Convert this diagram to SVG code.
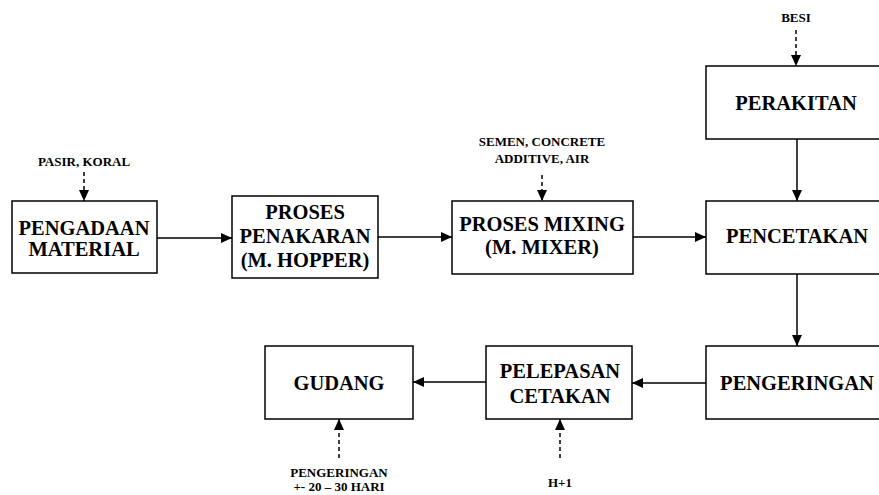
<svg xmlns="http://www.w3.org/2000/svg" width="879" height="495" viewBox="0 0 879 495">
<style>
.box{fill:#fff;stroke:#000;stroke-width:1.5}
.t{font-family:"Liberation Serif","Times New Roman",serif;font-weight:bold;font-size:20.5px;text-anchor:middle;fill:#000}
.s{font-family:"Liberation Serif","Times New Roman",serif;font-weight:bold;font-size:13px;text-anchor:middle;fill:#000}
.c{stroke:#000;stroke-width:1.5;fill:none}
.d{stroke:#000;stroke-width:1.5;fill:none;stroke-dasharray:4,3}
</style>
<defs>
<marker id="ah" markerWidth="11" markerHeight="11" viewBox="0 0 11 11" refX="11" refY="5.5" orient="auto" markerUnits="userSpaceOnUse">
<path d="M0,0.5 L11,5.5 L0,10.5 Z" fill="#000"/>
</marker>
</defs>
<rect width="879" height="495" fill="#fff"/>
<g id="connectors">
<line class="c" x1="157" y1="238" x2="232" y2="238" marker-end="url(#ah)"/>
<line class="c" x1="378" y1="237" x2="452" y2="237" marker-end="url(#ah)"/>
<line class="c" x1="633" y1="237" x2="706" y2="237" marker-end="url(#ah)"/>
<line class="c" x1="797" y1="139" x2="797" y2="201" marker-end="url(#ah)"/>
<line class="c" x1="797" y1="274" x2="797" y2="346" marker-end="url(#ah)"/>
<line class="c" x1="706" y1="383" x2="632" y2="383" marker-end="url(#ah)"/>
<line class="c" x1="486" y1="382" x2="413" y2="382" marker-end="url(#ah)"/>
<line class="d" x1="84" y1="172" x2="84" y2="201" marker-end="url(#ah)"/>
<line class="d" x1="542" y1="175" x2="542" y2="201" marker-end="url(#ah)"/>
<line class="d" x1="796" y1="30" x2="796" y2="66" marker-end="url(#ah)"/>
<line class="d" x1="339" y1="458" x2="339" y2="419" marker-end="url(#ah)"/>
<line class="d" x1="560" y1="458" x2="560" y2="419" marker-end="url(#ah)"/>
</g>
<g id="pengadaan">
<rect class="box" x="12" y="201" width="145" height="72"/>
<text class="t" x="84" y="235">PENGADAAN</text>
<text class="t" x="84" y="256">MATERIAL</text>
</g>
<g id="penakaran">
<rect class="box" x="232" y="196" width="146" height="82"/>
<text class="t" x="305" y="219">PROSES</text>
<text class="t" x="305" y="243">PENAKARAN</text>
<text class="t" x="305" y="267">(M. HOPPER)</text>
</g>
<g id="mixing">
<rect class="box" x="452" y="201" width="181" height="73"/>
<text class="t" x="542" y="231">PROSES MIXING</text>
<text class="t" x="542" y="254">(M. MIXER)</text>
</g>
<g id="perakitan">
<rect class="box" x="706" y="66" width="176" height="73"/>
<text class="t" x="796" y="110">PERAKITAN</text>
</g>
<g id="pencetakan">
<rect class="box" x="706" y="201" width="176" height="73"/>
<text class="t" x="797" y="243">PENCETAKAN</text>
</g>
<g id="pengeringan">
<rect class="box" x="706" y="346" width="176" height="73"/>
<text class="t" x="797" y="390">PENGERINGAN</text>
</g>
<g id="pelepasan">
<rect class="box" x="486" y="346" width="146" height="73"/>
<text class="t" x="560" y="378">PELEPASAN</text>
<text class="t" x="560" y="403">CETAKAN</text>
</g>
<g id="gudang">
<rect class="box" x="265" y="346" width="148" height="73"/>
<text class="t" x="339" y="390">GUDANG</text>
</g>
<g id="labels">
<text class="s" x="84" y="166">PASIR, KORAL</text>
<text class="s" x="542" y="146">SEMEN, CONCRETE</text>
<text class="s" x="542" y="163">ADDITIVE, AIR</text>
<text class="s" x="796" y="22">BESI</text>
<text class="s" x="339" y="477">PENGERINGAN</text>
<text class="s" x="339" y="491">+- 20 – 30 HARI</text>
<text class="s" x="560" y="487">H+1</text>
</g>
</svg>
